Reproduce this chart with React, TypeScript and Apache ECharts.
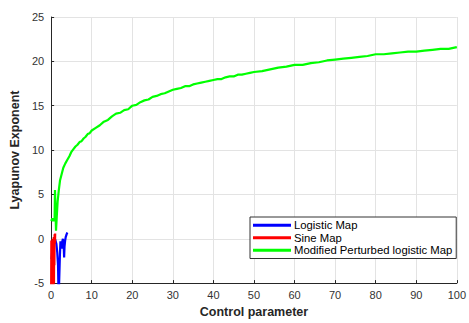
import React, { useEffect, useRef } from "react";
import * as echarts from "echarts";

const seriesNames = ["Logistic Map", "Sine Map", "Modified Perturbed logistic Map"];
const seriesColors = ["#0000ff", "#ff0000", "#00ff00"];

const logisticData: number[][] = [
  [0.1, -2.3], [0.3, -1.2], [0.5, -0.7], [0.8, 0.0], [1.0, -0.1], [1.3, -0.6], [1.5, -1.5],
  [1.7, -3.0], [1.85, -7], [2.0, -7], [2.15, -2.0], [2.3, -0.3], [2.45, -0.6],
  [2.6, -1.1], [2.75, -0.3], [2.9, 0.0], [3.0, -0.4], [3.1, -0.8], [3.2, -2.1],
  [3.3, -0.9], [3.45, -0.2], [3.6, 0.2], [3.75, 0.4], [3.85, 0.55], [4.0, 0.7],
];

const sineData: number[][] = [
  [0.0, -6], [0.05, -0.2], [0.1, -6], [0.15, -0.5], [0.2, -6], [0.25, -1.0],
  [0.3, -6], [0.35, 0.0], [0.4, -6], [0.45, -0.5], [0.5, -6], [0.55, -0.3],
  [0.6, -5.5], [0.65, 0.2], [0.7, -5], [0.75, 0.1], [0.8, -3], [0.85, 0.5],
  [0.9, 0.4], [0.95, -0.5], [1.0, 0.6],
];

const perturbedData: number[][] = [
  [0, 2.0], [0.3, 2.3], [0.6, 2.0], [0.85, 2.2], [0.95, 5.5], [1.05, 3.5], [1.2, 0.9],
  [1.4, 2.6], [1.6, 4.2], [1.9, 5.5], [2.2, 6.6], [2.6, 7.3], [3.0, 8.0], [3.5, 8.5],
  [4.0, 8.9], [4.5, 9.3], [5.0, 9.8], [5.5, 10.1], [6.0, 10.4], [6.5, 10.6], [7.0, 10.9],
  [7.5, 11.0], [8.0, 11.3], [8.5, 11.5], [9.0, 11.8], [9.5, 11.9], [10, 12.2], [11, 12.5],
  [12, 12.8], [13, 13.2], [14, 13.4], [15, 13.8], [16, 14.1], [17, 14.2], [18, 14.5],
  [19, 14.6], [20, 15.0], [21, 15.1], [22, 15.4], [23, 15.6], [24, 15.7], [25, 16.0],
  [26, 16.1], [27, 16.3], [28, 16.4], [29, 16.6], [30, 16.8], [31, 16.9], [32, 17.0],
  [33, 17.2], [34, 17.2], [35, 17.4], [36, 17.5], [37, 17.6], [38, 17.7], [39, 17.8],
  [40, 17.9], [41, 18.0], [42, 18.0], [43, 18.2], [44, 18.3], [45, 18.3], [46, 18.5],
  [47, 18.5], [48, 18.6], [49, 18.7], [50, 18.8], [52, 18.9], [54, 19.1], [56, 19.3],
  [58, 19.4], [60, 19.6], [62, 19.6], [64, 19.8], [66, 19.9], [68, 20.1], [70, 20.2],
  [72, 20.3], [74, 20.4], [76, 20.5], [78, 20.6], [80, 20.8], [82, 20.8], [84, 20.9],
  [86, 21.0], [88, 21.1], [90, 21.1], [92, 21.2], [94, 21.3], [96, 21.4], [98, 21.4],
  [100, 21.6],
];

const xAxisTitle = "Control parameter";
const yAxisTitle = "Lyapunov Exponent";

const FONT = "Liberation Sans, Arial, sans-serif";

export default function App() {
  const ref = useRef<HTMLDivElement>(null);
  useEffect(() => {
    if (!ref.current) return;
    const chart = echarts.init(ref.current, undefined, { renderer: "svg" });
    const datasets = [logisticData, sineData, perturbedData];
    chart.setOption({
      animation: false,
      backgroundColor: "#ffffff",
      textStyle: { fontFamily: FONT },
      grid: { left: 47, right: 11, top: 17, bottom: 39, containLabel: false },
      xAxis: {
        type: "value",
        min: 0,
        max: 100,
        interval: 10,
        name: xAxisTitle,
        nameLocation: "middle",
        nameGap: 21,
        nameTextStyle: { fontFamily: FONT, fontWeight: "bold", fontSize: 12.5, color: "#262626" },
        axisLine: { show: true, onZero: false, lineStyle: { color: "#262626", width: 1 } },
        axisTick: { show: true, inside: true, length: 3, lineStyle: { color: "#262626" } },
        axisLabel: { fontFamily: FONT, fontSize: 11, color: "#333333", margin: 6 },
        splitLine: { show: true, lineStyle: { color: "#e3e3e3", width: 1 } },
      },
      yAxis: {
        type: "value",
        min: -5,
        max: 25,
        interval: 5,
        name: yAxisTitle,
        nameLocation: "middle",
        nameGap: 27,
        nameTextStyle: { fontFamily: FONT, fontWeight: "bold", fontSize: 12.5, color: "#262626" },
        axisLine: { show: true, onZero: false, lineStyle: { color: "#262626", width: 1 } },
        axisTick: { show: true, inside: true, length: 3, lineStyle: { color: "#262626" } },
        axisLabel: { fontFamily: FONT, fontSize: 11, color: "#333333", margin: 7 },
        splitLine: { show: true, lineStyle: { color: "#e3e3e3", width: 1 } },
      },
      legend: {
        orient: "vertical",
        left: 250,
        top: 217,
        width: 208,
        itemWidth: 38,
        itemHeight: 3,
        itemGap: 0,
        icon: "rect",
        padding: [2, 4, 2, 3],
        backgroundColor: "#ffffff",
        borderColor: "#333333",
        borderWidth: 1,
        borderRadius: 0,
        textStyle: { fontFamily: FONT, fontSize: 11.3, color: "#000000", lineHeight: 12.5, padding: [0, 0, 0, -2] },
        data: seriesNames,
      },
      series: seriesNames.map((name, i) => ({
        name,
        type: "line",
        data: datasets[i],
        showSymbol: false,
        symbol: "none",
        clip: true,
        lineStyle: { color: seriesColors[i], width: 2.2 },
        itemStyle: { color: seriesColors[i] },
        z: 2 + i,
      })),
    });
    return () => chart.dispose();
  }, []);
  return <div ref={ref} style={{ width: 469, height: 323, position: "absolute", left: 0, top: 0 }} />;
}
